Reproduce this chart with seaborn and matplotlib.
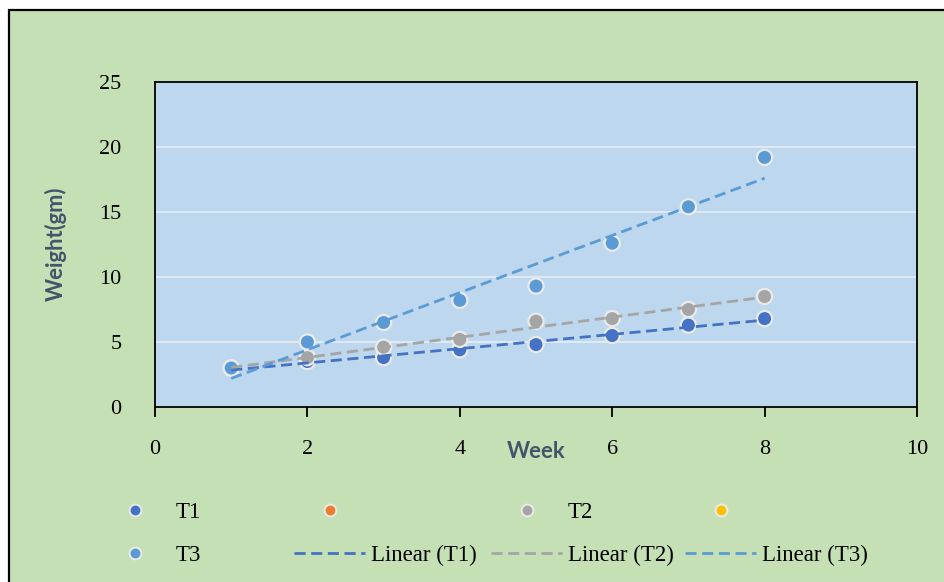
import numpy as np
import pandas as pd
import matplotlib
matplotlib.use("Agg")
import matplotlib.pyplot as plt
import seaborn as sns
from matplotlib.lines import Line2D
from matplotlib.patches import Rectangle

# ---- data ----
weeks = [1, 2, 3, 4, 5, 6, 7, 8]
t1 = [3.0, 3.5, 3.8, 4.4, 4.8, 5.5, 6.3, 6.8]
t2 = [3.0, 3.8, 4.6, 5.2, 6.6, 6.8, 7.5, 8.5]
t3 = [3.0, 5.0, 6.5, 8.2, 9.3, 12.6, 15.4, 19.2]
series_names = ["T1", "T2", "T3"]
x_ticks = [0, 2, 4, 6, 8, 10]
y_ticks = [0, 5, 10, 15, 20, 25]

colors = {"T1": "#4472C4", "T2": "#A5A5A5", "T3": "#5B9BD5"}
orange = "#ED7D31"
yellow = "#FFC000"

df = pd.DataFrame({
    "Week": weeks * 3,
    "Weight": t1 + t2 + t3,
    "Series": [n for n in series_names for _ in weeks],
})

sns.set_style("white")
plt.rcParams["font.family"] = ["Liberation Serif", "DejaVu Serif"]
plt.rcParams["text.color"] = "black"

W, H = 945, 582
fig = plt.figure(figsize=(W / 100, H / 100), dpi=100)
fig.patch.set_facecolor("white")

# outer green chart area with black border
fig.patches.append(Rectangle((9.5 / W, -0.05), 1.2, 1 - 9.5 / H + 0.05,
                             transform=fig.transFigure, facecolor="#C5E0B4",
                             edgecolor="black", linewidth=1.6, zorder=-10))

ax = fig.add_axes([155 / W, 1 - 407 / H, (917 - 155) / W, (407 - 82) / H])
ax.set_facecolor("#BDD7EE")

ax.set_xlim(0, 10)
ax.set_ylim(0, 25)
ax.set_xticks(x_ticks)
ax.set_yticks(y_ticks)
ax.yaxis.grid(True, color="#E6EDF5", linewidth=1.2)
ax.set_axisbelow(True)

sns.scatterplot(data=df, x="Week", y="Weight", hue="Series",
                palette=colors, s=120, edgecolor="#EAEAEA", linewidth=1.6,
                legend=False, ax=ax, zorder=3)

for name in series_names:
    sub = df[df["Series"] == name]
    sns.regplot(data=sub, x="Week", y="Weight", scatter=False, ci=None,
                truncate=True, color=colors[name], ax=ax,
                line_kws={"linestyle": (0, (4, 2)), "linewidth": 2.0,
                          "zorder": 4})

for sp in ax.spines.values():
    sp.set_visible(True)
    sp.set_color("black")
    sp.set_linewidth(1.3)

ax.tick_params(axis="x", which="major", direction="out", length=7, width=1.3,
               color="black", pad=17, labelsize=16, bottom=True,
               labelcolor="black")
ax.tick_params(axis="y", which="major", length=0, pad=24, labelsize=16,
               labelcolor="black")
ax.set_xlabel("")
ax.set_ylabel("")

lab_font = dict(family=["Lato", "DejaVu Sans"], weight="bold", size=15.8,
                color="#44546A")
ax.text(0.5, -(452 - 407) / 325, "Week", transform=ax.transAxes,
        ha="center", va="center", **lab_font)
ax.text((56 - 155) / 762, (407 - 244) / 325, "Weight(gm)",
        transform=ax.transAxes, ha="center", va="center", rotation=90,
        **lab_font)

# ---- legend: 4 columns, 2 rows ----
def mk(c):
    return Line2D([], [], linestyle="none", marker="o", markersize=8.5,
                  markerfacecolor=c, markeredgecolor="#EAEAEA",
                  markeredgewidth=1.4)

def ln(c):
    return Line2D([], [], color=c, linestyle=(0, (4, 2)), linewidth=2.0)

columns = [
    ([mk(colors["T1"]), mk(colors["T3"])], ["T1", "T3"]),
    ([mk(orange), ln(colors["T1"])], [" ", "Linear (T1)"]),
    ([mk(colors["T2"]), ln(colors["T2"])], ["T2", "Linear (T2)"]),
    ([mk(yellow), ln(colors["T3"])], [" ", "Linear (T3)"]),
]
col_x = [99, 294, 491, 685]
for (handles, labels), cx in zip(columns, col_x):
    leg = fig.legend(handles, labels, loc="upper left",
                     bbox_to_anchor=(cx / W, 1 - 502 / H),
                     frameon=False, fontsize=16.5, handlelength=3.1,
                     handletextpad=0.25, borderpad=0, borderaxespad=0,
                     labelspacing=0.95)
    for t in leg.get_texts():
        t.set_color("black")

fig.savefig("out.png", dpi=100, facecolor=fig.get_facecolor())
